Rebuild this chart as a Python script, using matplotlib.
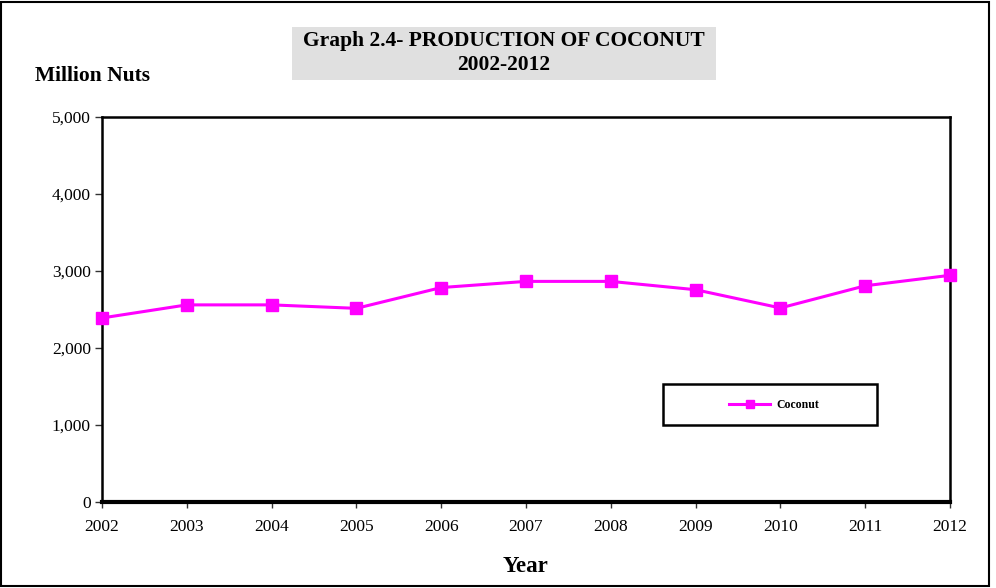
import matplotlib
matplotlib.use("Agg")
import matplotlib.pyplot as plt
from matplotlib.patches import Rectangle

years = [2002, 2003, 2004, 2005, 2006, 2007, 2008, 2009, 2010, 2011, 2012]
coconut = [2390, 2560, 2560, 2515, 2785, 2865, 2865, 2757, 2520, 2808, 2944]
yticks = [0, 1000, 2000, 3000, 4000, 5000]

plt.rcParams['font.family'] = ['Liberation Serif', 'DejaVu Serif']

W, H = 996, 588
fig = plt.figure(figsize=(W/100, H/100), dpi=100)
ax = fig.add_axes([102/W, 1 - 502/H, 848/W, 385/H])

ax.plot(years, coconut, color='#FF00FF', lw=2.2, marker='s', markersize=9,
        markeredgecolor='#FF00FF', label='Coconut', clip_on=False, zorder=5)

ax.set_xlim(2002, 2012)
ax.set_ylim(0, 5000)
ax.set_xticks(years)
ax.set_xticklabels([str(y) for y in years], fontsize=12.5)
ax.set_yticks(yticks)
ax.set_yticklabels([f"{v:,}" for v in yticks], fontsize=12.5)
ax.tick_params(axis='y', direction='out', length=5, width=1, color='#333333', pad=3)
ax.tick_params(axis='x', direction='out', length=4, width=1, color='#333333', pad=8)

for s in ['left', 'right', 'top']:
    ax.spines[s].set_linewidth(1.8)
ax.spines['bottom'].set_linewidth(3)

# legend frame
ax.add_patch(Rectangle(((663-102)/848, (502-425)/385), (877-663)/848, (425-384)/385,
                       transform=ax.transAxes, facecolor='white', edgecolor='black',
                       linewidth=1.8, zorder=6))
leg = ax.legend(loc='center left', bbox_to_anchor=((729-102)/848, (502-405)/385),
                frameon=False, prop={'weight': 'bold', 'size': 8.5},
                handlelength=3.5, handletextpad=0.5, borderpad=0, borderaxespad=0,
                markerscale=0.7)
leg.set_zorder(7)

# title box
fig.patches.append(Rectangle((292/W, 1 - 80/H), (716-292)/W, (80-27)/H,
                             transform=fig.transFigure, facecolor='#E0E0E0', edgecolor='none', zorder=0))
fig.text(504/W, 1 - 41/H, 'Graph 2.4- PRODUCTION OF COCONUT', ha='center', va='center',
         fontsize=15.5, fontweight='bold')
fig.text(504/W, 1 - 65/H, '2002-2012', ha='center', va='center',
         fontsize=15.5, fontweight='bold')
fig.text(35/W, 1 - 76/H, 'Million Nuts', ha='left', va='center', fontsize=15.5, fontweight='bold')
fig.text(525/W, 1 - 567/H, 'Year', ha='center', va='center', fontsize=16.5, fontweight='bold')

# figure border
fig.patches.append(Rectangle((1/W, 2/H), 988/W, 584/H, transform=fig.transFigure,
                             facecolor='none', edgecolor='black', linewidth=1.5))

fig.savefig('out.png', dpi=100)
